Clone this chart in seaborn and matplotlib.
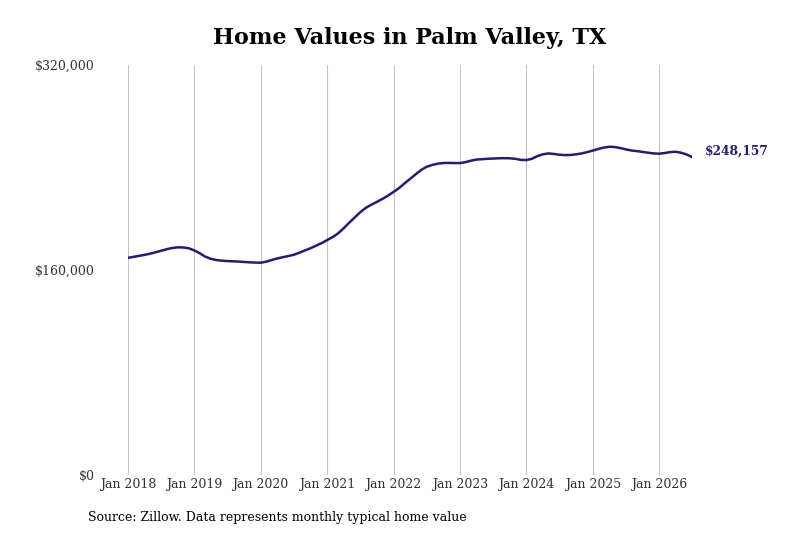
import pandas as pd
import seaborn as sns
import matplotlib.pyplot as plt
import matplotlib.ticker as mticker
import matplotlib.dates as mdates

# Monthly typical home value (thousands of $), Jan 2018 - Jul 2026
home_values = [
    169.5, 170.3, 171.0, 171.8, 172.7, 173.8, 175.0, 176.2, 177.2, 177.7, 177.6, 177.0,  # 2018
    175.3, 173.0, 170.5, 168.8, 167.8, 167.3, 167.0, 166.8, 166.6, 166.3, 166.0, 165.8,  # 2019
    165.7, 166.5, 167.8, 169.0, 170.0, 170.9, 171.9, 173.5, 175.3, 177.0, 179.0, 181.0,  # 2020
    183.4, 185.8, 188.5, 192.5, 196.8, 201.0, 205.0, 208.5, 211.0, 213.2, 215.5, 218.0,  # 2021
    221.0, 224.0, 227.5, 231.0, 234.5, 238.0, 240.5, 242.0, 243.0, 243.5, 243.6, 243.5,  # 2022
    243.5, 244.2, 245.3, 246.2, 246.5, 246.8, 247.0, 247.2, 247.3, 247.2, 246.8, 246.0,  # 2023
    245.8, 246.8, 248.8, 250.3, 251.0, 250.6, 250.0, 249.7, 249.8, 250.3, 251.0, 252.0,  # 2024
    253.2, 254.5, 255.5, 256.2, 256.0, 255.2, 254.2, 253.3, 252.8, 252.2, 251.6, 251.0,  # 2025
    250.8, 251.3, 252.0, 252.3, 251.6, 250.2, 248.157,                                   # 2026
]
start_month = "2018-01-01"
tick_years = [2018, 2019, 2020, 2021, 2022, 2023, 2024, 2025, 2026]
y_ticks = [0, 160000, 320000]
title = "Home Values in Palm Valley, TX"
source = "Source: Zillow. Data represents monthly typical home value"

df = pd.DataFrame({
    "date": pd.date_range(start_month, periods=len(home_values), freq="MS"),
    "value": [v * 1000 for v in home_values],
})

sns.set_style("white")
plt.rcParams["font.family"] = ["DejaVu Serif"]

line_color = "#211d77"

fig = plt.figure(figsize=(8, 5.33), dpi=100)
ax = fig.add_axes([0.16, 0.1088, 0.705, 0.7692])
sns.lineplot(data=df, x="date", y="value", color=line_color, linewidth=1.8, ax=ax)

ax.set_xlim(df["date"].iloc[0], df["date"].iloc[-1])
ax.set_ylim(0, 320000)
ax.set_xticks([pd.Timestamp(f"{y}-01-01") for y in tick_years])
ax.xaxis.set_major_formatter(mdates.DateFormatter("Jan %Y"))
ax.set_yticks(y_ticks)
ax.yaxis.set_major_formatter(mticker.FuncFormatter(lambda v, p: f"${v:,.0f}"))
ax.tick_params(axis="x", length=0, pad=2, labelsize=9, labelcolor="#333333")
ax.tick_params(axis="y", length=0, pad=24, labelsize=9, labelcolor="#333333")
ax.grid(axis="x", color="#c4c4c4", linewidth=0.8)
ax.grid(axis="y", visible=False)
for s in ax.spines.values():
    s.set_visible(False)
ax.set_xlabel("")
ax.set_ylabel("")

last = df.iloc[-1]
ax.annotate(f"${last['value']:,.0f}", xy=(last["date"], last["value"]),
            xytext=(9, 4), textcoords="offset points", va="center", ha="left",
            fontsize=8.8, fontweight="bold", color=line_color, annotation_clip=False)

fig.text(0.512, 0.928, title, ha="center", va="center", fontsize=16,
         fontweight="bold", color="black")
fig.text(0.11, 0.03, source, ha="left", va="center", fontsize=9, color="black")

fig.savefig("out.png", dpi=100)
